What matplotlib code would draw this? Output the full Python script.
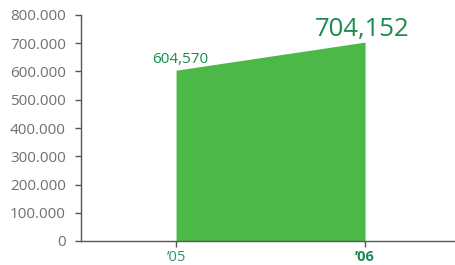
import matplotlib
matplotlib.use("Agg")
import matplotlib.pyplot as plt

years = ["\u201905", "\u201906"]
values = [604570, 704152]
value_labels = ["604,570", "704,152"]
yticks = [0, 100000, 200000, 300000, 400000, 500000, 600000, 700000, 800000]
ytick_labels = ["0", "100.000", "200.000", "300.000", "400.000", "500.000", "600.000", "700.000", "800.000"]

plt.rcParams['font.family'] = ['Open Sans', 'DejaVu Sans']

fig = plt.figure(figsize=(4.55, 2.65), dpi=100)
ax = fig.add_axes([81/455, 1-241/265, 1-81/455, (241-15)/265])

xs = list(range(len(values)))
green = "#4cb848"
dark = "#1a8a4e"
ax.fill_between(xs, 0, values, color=green, linewidth=0)

ax.set_xlim(-0.503, 1.476)
ax.set_ylim(0, 800000)
ax.set_yticks(yticks)
ax.set_yticklabels(ytick_labels, fontsize=11, color="#707070")
ax.set_xticks(xs)
ax.set_xticklabels(years, fontsize=10.5)
xl = ax.get_xticklabels()
xl[0].set_color("#2a9a5a")
xl[1].set_color(dark)
xl[1].set_fontweight("bold")

for s in ["top", "right"]:
    ax.spines[s].set_visible(False)
for s in ["left", "bottom"]:
    ax.spines[s].set_color("#555555")
    ax.spines[s].set_linewidth(1.0)
ax.tick_params(axis="both", direction="out", length=4, width=1, color="#555555")
ax.tick_params(axis="y", pad=7)
ax.tick_params(axis="x", pad=2.5)

ax.annotate(value_labels[0], (xs[0], values[0]), xytext=(3, 2), textcoords="offset points",
            ha="center", va="bottom", fontsize=11, color=dark)
ax.annotate(value_labels[1], (xs[1], values[1]), xytext=(-2, 0), textcoords="offset points",
            ha="center", va="bottom", fontsize=18.5, color=dark)

fig.savefig("out.png", dpi=100)
